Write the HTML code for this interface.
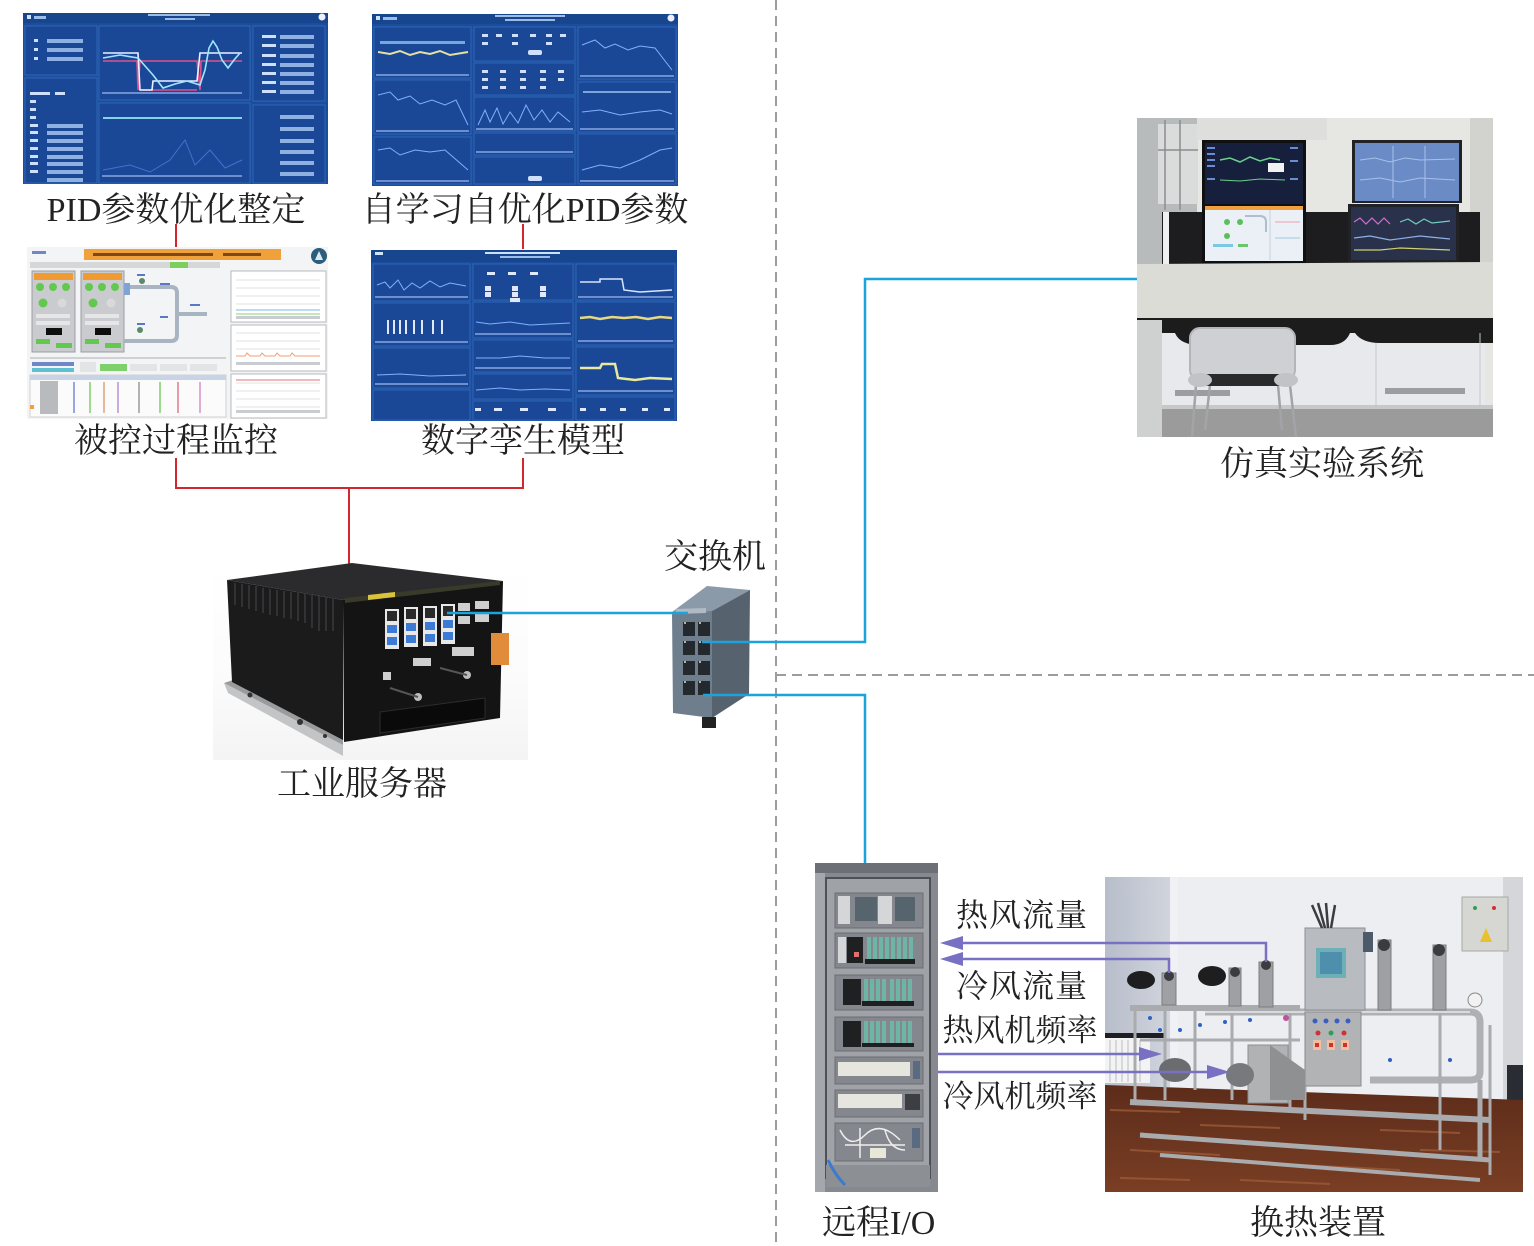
<!DOCTYPE html>
<html><head><meta charset="utf-8">
<style>
html,body{margin:0;padding:0;background:#fff;}
svg{display:block;}
text{font-family:"Liberation Serif","Noto Serif CJK SC","Noto Sans CJK SC",serif;fill:#222;}
</style></head><body>
<svg width="1534" height="1246" viewBox="0 0 1534 1246" xmlns="http://www.w3.org/2000/svg">
<defs>
<linearGradient id="floor" x1="0" y1="0" x2="0" y2="1"><stop offset="0" stop-color="#5c2c1a"/><stop offset="1" stop-color="#7a3e24"/></linearGradient>
<linearGradient id="lwall" x1="0" y1="0" x2="1" y2="0"><stop offset="0" stop-color="#b7bdca"/><stop offset="1" stop-color="#d3d7df"/></linearGradient>
<linearGradient id="srvbg" x1="0" y1="0" x2="0" y2="1"><stop offset="0" stop-color="#ffffff"/><stop offset="0.6" stop-color="#fbfbfb"/><stop offset="1" stop-color="#f4f4f4"/></linearGradient>
</defs>

<!-- dashed separators -->
<line x1="776" y1="0" x2="776" y2="1246" stroke="#9c9c9c" stroke-width="2" stroke-dasharray="10 6"/>
<line x1="776" y1="675" x2="1534" y2="675" stroke="#9c9c9c" stroke-width="2" stroke-dasharray="10 6"/>

<!-- ============ Screenshot 1 : PID ============ -->
<g>
<rect x="23" y="13" width="305" height="171" fill="#1b4d9c"/>
<rect x="23" y="13" width="305" height="10" fill="#17468f"/>
<rect x="27" y="15" width="4" height="4" fill="#cfe3ff"/>
<rect x="34" y="16" width="12" height="3" fill="#9bbde8"/>
<rect x="148" y="14" width="62" height="2" fill="#9bbde8"/>
<rect x="165" y="18" width="30" height="2" fill="#9bbde8"/>
<circle cx="322" cy="17" r="3.5" fill="#eef"/>
<g fill="#1a4896" stroke="#2f65b6" stroke-width="1">
<rect x="25" y="26" width="72" height="49"/>
<rect x="25" y="78" width="72" height="105"/>
<rect x="99" y="26" width="151" height="74"/>
<rect x="99" y="103" width="151" height="80"/>
<rect x="253" y="26" width="72" height="75"/>
<rect x="253" y="105" width="72" height="78"/>
</g>
<g fill="#8fb1e2">
<rect x="47" y="39" width="36" height="4"/><rect x="47" y="48" width="36" height="4"/><rect x="47" y="57" width="36" height="4"/>
<rect x="47" y="124" width="36" height="4"/><rect x="47" y="131" width="36" height="4"/><rect x="47" y="139" width="36" height="4"/><rect x="47" y="147" width="36" height="4"/><rect x="47" y="155" width="36" height="4"/><rect x="47" y="162" width="36" height="4"/><rect x="47" y="170" width="36" height="4"/><rect x="47" y="178" width="36" height="4"/>
<rect x="280" y="35" width="34" height="4"/><rect x="280" y="44" width="34" height="4"/><rect x="280" y="54" width="34" height="4"/><rect x="280" y="63" width="34" height="4"/><rect x="280" y="72" width="34" height="4"/><rect x="280" y="81" width="34" height="4"/><rect x="280" y="90" width="34" height="4"/>
<rect x="280" y="115" width="34" height="4"/><rect x="280" y="127" width="34" height="4"/><rect x="280" y="139" width="34" height="4"/><rect x="280" y="150" width="34" height="4"/><rect x="280" y="161" width="34" height="4"/><rect x="280" y="172" width="34" height="4"/>
</g>
<g fill="#cfe0ff">
<rect x="34" y="39" width="4" height="3"/><rect x="34" y="48" width="4" height="3"/><rect x="34" y="57" width="4" height="3"/>
<rect x="30" y="124" width="8" height="3"/><rect x="30" y="131" width="8" height="3"/><rect x="30" y="139" width="8" height="3"/><rect x="30" y="147" width="8" height="3"/><rect x="30" y="155" width="8" height="3"/><rect x="30" y="162" width="8" height="3"/><rect x="30" y="170" width="8" height="3"/>
<rect x="262" y="35" width="14" height="3"/><rect x="262" y="44" width="14" height="3"/><rect x="262" y="54" width="14" height="3"/><rect x="262" y="63" width="14" height="3"/><rect x="262" y="72" width="14" height="3"/><rect x="262" y="81" width="14" height="3"/><rect x="262" y="90" width="14" height="3"/>
<rect x="30" y="92" width="20" height="3"/><rect x="55" y="92" width="10" height="3"/>
<rect x="30" y="100" width="6" height="3"/><rect x="30" y="108" width="6" height="3"/><rect x="30" y="116" width="6" height="3"/>
</g>
<g fill="none" stroke-width="1.6">
<polyline points="103,61 137,61 138,90 140,61 197,61 200,90 201,61 242,61" stroke="#e0508a"/>
<polyline points="140,90 197,90" stroke="#e0508a"/>
<polyline points="103,53 138,53 140,90 152,90 153,81 197,81 200,53 242,53" stroke="#f0f0ff"/>
<polyline points="103,58 120,55 138,58 153,75 163,88 175,84 187,81 200,85 205,70 209,48 213,41 217,47 222,60 228,68 234,60 240,53" stroke="#9fe6ff"/>
<line x1="103" y1="118" x2="242" y2="118" stroke="#7fd4ea" stroke-width="2"/>
<polyline points="103,170 130,165 150,172 170,160 185,140 195,165 210,150 225,168 242,160" stroke="#4a6ed0" stroke-width="1"/>
</g>
<rect x="102" y="92" width="140" height="2" fill="#6d8fd0"/>
<rect x="102" y="175" width="140" height="2" fill="#6d8fd0"/>
</g>

<!-- ============ Screenshot 2 ============ -->
<g>
<rect x="372" y="14" width="306" height="172" fill="#1b4d9c"/>
<rect x="372" y="14" width="306" height="10" fill="#17468f"/>
<rect x="376" y="16" width="4" height="4" fill="#cfe3ff"/>
<rect x="383" y="17" width="14" height="3" fill="#9bbde8"/>
<rect x="495" y="15" width="70" height="2" fill="#9bbde8"/>
<rect x="505" y="19" width="50" height="2" fill="#9bbde8"/>
<circle cx="671" cy="18" r="3.5" fill="#eef"/>
<g fill="#1a4896" stroke="#2f65b6" stroke-width="1">
<rect x="374" y="27" width="97" height="51"/>
<rect x="374" y="80" width="97" height="54"/>
<rect x="374" y="137" width="97" height="47"/>
<rect x="474" y="27" width="101" height="34"/>
<rect x="474" y="63" width="101" height="32"/>
<rect x="474" y="97" width="101" height="34"/>
<rect x="474" y="133" width="101" height="22"/>
<rect x="474" y="157" width="101" height="27"/>
<rect x="578" y="27" width="98" height="52"/>
<rect x="578" y="82" width="98" height="50"/>
<rect x="578" y="134" width="98" height="50"/>
</g>
<rect x="380" y="41" width="85" height="3" fill="#7aa5dd"/>
<polyline points="378,52 390,54 400,51 410,55 420,52 430,54 440,51 450,55 468,52" fill="none" stroke="#e8e0a0" stroke-width="2"/>
<polyline points="378,95 390,92 398,100 410,96 420,104 432,100 445,105 456,100 468,125" fill="none" stroke="#7fb0ff" stroke-width="1"/>
<polyline points="378,150 390,148 400,155 415,150 430,152 445,150 468,170" fill="none" stroke="#7fb0ff" stroke-width="1"/>
<polyline points="582,45 595,40 605,48 615,44 628,50 640,46 655,48 672,70" fill="none" stroke="#7fb0ff" stroke-width="1"/>
<rect x="583" y="91" width="88" height="2" fill="#7aa5dd"/>
<polyline points="582,112 600,110 620,115 640,112 660,110 672,114" fill="none" stroke="#7fb0ff" stroke-width="1"/>
<polyline points="582,170 600,165 620,168 640,160 660,150 672,148" fill="none" stroke="#7fb0ff" stroke-width="1"/>
<g fill="#cfe0ff">
<rect x="482" y="34" width="6" height="3"/><rect x="496" y="34" width="6" height="3"/><rect x="512" y="34" width="6" height="3"/><rect x="530" y="34" width="6" height="3"/><rect x="546" y="34" width="6" height="3"/><rect x="560" y="34" width="6" height="3"/>
<rect x="482" y="42" width="6" height="3"/><rect x="512" y="42" width="6" height="3"/><rect x="546" y="42" width="6" height="3"/>
<rect x="528" y="50" width="14" height="5" rx="2"/>
<rect x="482" y="70" width="6" height="3"/><rect x="500" y="70" width="6" height="3"/><rect x="520" y="70" width="6" height="3"/><rect x="540" y="70" width="6" height="3"/><rect x="558" y="70" width="6" height="3"/>
<rect x="482" y="78" width="6" height="3"/><rect x="500" y="78" width="6" height="3"/><rect x="520" y="78" width="6" height="3"/><rect x="540" y="78" width="6" height="3"/><rect x="558" y="78" width="6" height="3"/>
<rect x="482" y="86" width="6" height="3"/><rect x="500" y="86" width="6" height="3"/><rect x="520" y="86" width="6" height="3"/><rect x="540" y="86" width="6" height="3"/>
<rect x="528" y="176" width="14" height="5" rx="2"/>
</g>
<polyline points="478,125 485,110 490,122 497,108 503,124 510,112 518,123 526,105 534,120 542,110 550,122 558,112 570,122" fill="none" stroke="#7fb0ff" stroke-width="1"/>
<g fill="#6d8fd0"><rect x="376" y="74" width="93" height="2"/><rect x="376" y="130" width="93" height="2"/><rect x="376" y="180" width="93" height="2"/><rect x="580" y="75" width="94" height="2"/><rect x="580" y="128" width="94" height="2"/><rect x="580" y="180" width="94" height="2"/><rect x="476" y="128" width="97" height="2"/><rect x="476" y="151" width="97" height="2"/></g>
</g>

<!-- red lines -->
<path d="M176 224V247 M523 224V249 M176 458V488H523V458 M349 488V567" stroke="#d3272e" stroke-width="2" fill="none"/>

<!-- ============ Screenshot 3 : process monitor ============ -->
<g>
<rect x="27" y="247" width="301" height="172" fill="#f3f4f5"/>
<rect x="32" y="251" width="14" height="3" fill="#6f86c8"/>
<rect x="84" y="249" width="197" height="11" fill="#f0a13a"/>
<rect x="93" y="253" width="120" height="3" fill="#7a4a1c"/>
<rect x="223" y="253" width="38" height="3" fill="#7a4a1c"/>
<circle cx="319" cy="256" r="8" fill="#2b5e7d"/>
<path d="M315 260 L319 251 L323 260 Z" fill="#dfeaf0"/>
<rect x="30" y="262" width="190" height="6" fill="#d6d7d9"/>
<rect x="170" y="262" width="18" height="6" fill="#7ccf5a"/>
<g stroke="#9a9da2" stroke-width="1">
<rect x="32" y="271" width="43" height="81" fill="#c9cbce"/>
<rect x="81" y="271" width="43" height="81" fill="#c9cbce"/>
</g>
<rect x="34" y="273" width="39" height="7" fill="#f09a32"/>
<rect x="83" y="273" width="39" height="7" fill="#f09a32"/>
<g fill="#62c94e">
<circle cx="40" cy="287" r="4"/><circle cx="53" cy="287" r="4"/><circle cx="66" cy="287" r="4"/>
<circle cx="89" cy="287" r="4"/><circle cx="102" cy="287" r="4"/><circle cx="115" cy="287" r="4"/>
<circle cx="43" cy="303" r="4.5"/><circle cx="93" cy="303" r="4.5"/>
<rect x="36" y="339" width="14" height="5"/><rect x="56" y="343" width="16" height="5"/>
<rect x="85" y="339" width="14" height="5"/><rect x="105" y="343" width="16" height="5"/>
</g>
<circle cx="62" cy="303" r="4.5" fill="#d9d9d9"/><circle cx="111" cy="303" r="4.5" fill="#d9d9d9"/>
<rect x="46" y="328" width="16" height="7" fill="#0e0e0e"/><rect x="95" y="328" width="16" height="7" fill="#0e0e0e"/>
<g fill="#e6e6e8"><rect x="36" y="314" width="34" height="4"/><rect x="36" y="321" width="34" height="4"/><rect x="85" y="314" width="34" height="4"/><rect x="85" y="321" width="34" height="4"/></g>
<g fill="none" stroke="#a9b4c3" stroke-width="4">
<path d="M124 287 H171 Q177 287 177 293 V335 Q177 341 171 341 H124"/>
<path d="M177 314 H207"/>
</g>
<rect x="124" y="283" width="6" height="12" fill="#7ea4d6"/>
<circle cx="142" cy="281" r="3" fill="#5a8a6a"/><circle cx="140" cy="330" r="3" fill="#5a8a6a"/>
<g fill="#5a78c8"><rect x="137" y="274" width="8" height="2"/><rect x="160" y="283" width="10" height="2"/><rect x="190" y="304" width="10" height="2"/><rect x="160" y="316" width="8" height="2"/><rect x="137" y="323" width="8" height="2"/></g>
<g fill="#fff" stroke="#b5b8bd" stroke-width="1">
<rect x="231" y="271" width="95" height="51"/>
<rect x="231" y="325" width="95" height="46"/>
<rect x="231" y="374" width="95" height="44"/>
</g>
<g stroke="#e0e0e0" stroke-width="1">
<line x1="236" y1="280" x2="320" y2="280"/><line x1="236" y1="288" x2="320" y2="288"/><line x1="236" y1="296" x2="320" y2="296"/><line x1="236" y1="304" x2="320" y2="304"/>
<line x1="236" y1="333" x2="320" y2="333"/><line x1="236" y1="341" x2="320" y2="341"/><line x1="236" y1="349" x2="320" y2="349"/>
<line x1="236" y1="383" x2="320" y2="383"/><line x1="236" y1="391" x2="320" y2="391"/><line x1="236" y1="399" x2="320" y2="399"/><line x1="236" y1="407" x2="320" y2="407"/>
</g>
<line x1="236" y1="310" x2="320" y2="310" stroke="#7ab8e0"/>
<line x1="236" y1="314" x2="320" y2="314" stroke="#8cd070"/>
<polyline points="236,356 245,356 247,353 250,356 260,356 262,353 265,356 275,356 277,353 280,356 290,356 292,353 295,356 320,356" fill="none" stroke="#f0a070" stroke-width="1"/>
<line x1="236" y1="380" x2="320" y2="380" stroke="#e07070"/>
<g fill="#c9ccd0"><rect x="236" y="316" width="84" height="3"/><rect x="236" y="362" width="84" height="3"/><rect x="236" y="410" width="84" height="3"/></g>
<rect x="30" y="357" width="196" height="2" fill="#cfd1d4"/>
<rect x="32" y="362" width="42" height="4" fill="#6f86c8"/>
<rect x="32" y="368" width="42" height="4" fill="#5ec0d0"/>
<rect x="80" y="362" width="16" height="10" fill="#e3e4e6"/>
<rect x="100" y="364" width="27" height="7" fill="#7dd06a"/>
<rect x="130" y="364" width="27" height="7" fill="#e3e4e6"/>
<rect x="160" y="364" width="27" height="7" fill="#e3e4e6"/>
<rect x="190" y="364" width="27" height="7" fill="#e3e4e6"/>
<rect x="30" y="375" width="196" height="42" fill="#fbfbfb" stroke="#d0d2d5"/>
<rect x="30" y="375" width="196" height="5" fill="#c8d4e6"/>
<rect x="40" y="381" width="18" height="33" fill="#b8babd"/>
<g fill="none" stroke-width="1.5">
<line x1="74" y1="382" x2="74" y2="413" stroke="#7a8ad8"/>
<line x1="90" y1="382" x2="90" y2="413" stroke="#7ccf6a"/>
<line x1="104" y1="382" x2="104" y2="413" stroke="#e0a07a"/>
<line x1="118" y1="382" x2="118" y2="413" stroke="#b890d8"/>
<line x1="139" y1="382" x2="139" y2="413" stroke="#9a9a9a"/>
<line x1="160" y1="382" x2="160" y2="413" stroke="#7ccf6a"/>
<line x1="178" y1="382" x2="178" y2="413" stroke="#e07a8a"/>
<line x1="200" y1="382" x2="200" y2="413" stroke="#d890c8"/>
</g>
<rect x="30" y="405" width="4" height="4" fill="#f0a040"/>
</g>

<!-- ============ Screenshot 4 : digital twin ============ -->
<g>
<rect x="371" y="250" width="306" height="171" fill="#1b4d9c"/>
<rect x="371" y="250" width="306" height="12" fill="#17468f"/>
<rect x="375" y="252" width="8" height="3" fill="#cfe3ff"/>
<rect x="485" y="252" width="75" height="2" fill="#cfe0ff"/>
<rect x="500" y="256" width="50" height="2" fill="#9bbde8"/>
<g fill="#1a4896" stroke="#2f65b6" stroke-width="1">
<rect x="373" y="264" width="97" height="37"/>
<rect x="373" y="303" width="97" height="43"/>
<rect x="373" y="348" width="97" height="40"/>
<rect x="373" y="390" width="97" height="30"/>
<rect x="473" y="264" width="100" height="36"/>
<rect x="473" y="302" width="100" height="36"/>
<rect x="473" y="340" width="100" height="32"/>
<rect x="473" y="374" width="100" height="25"/>
<rect x="473" y="401" width="100" height="19"/>
<rect x="576" y="264" width="99" height="36"/>
<rect x="576" y="302" width="99" height="43"/>
<rect x="576" y="347" width="99" height="48"/>
<rect x="576" y="397" width="99" height="23"/>
</g>
<polyline points="377,285 385,282 390,288 398,280 404,290 412,283 420,288 430,281 440,287 450,283 466,286" fill="none" stroke="#7fb0ff" stroke-width="1"/>
<g fill="#dfe8ff">
<rect x="387" y="320" width="2" height="14"/><rect x="393" y="320" width="2" height="14"/><rect x="399" y="320" width="2" height="14"/><rect x="405" y="320" width="2" height="14"/><rect x="413" y="320" width="2" height="14"/><rect x="421" y="320" width="2" height="14"/><rect x="432" y="320" width="2" height="14"/><rect x="441" y="320" width="2" height="14"/>
<rect x="485" y="286" width="6" height="5"/><rect x="512" y="286" width="6" height="5"/><rect x="540" y="286" width="6" height="5"/>
<rect x="485" y="292" width="6" height="5"/><rect x="512" y="292" width="6" height="5"/><rect x="540" y="292" width="6" height="5"/>
<rect x="487" y="272" width="8" height="3"/><rect x="508" y="272" width="8" height="3"/><rect x="530" y="272" width="8" height="3"/>
<rect x="510" y="298" width="10" height="4"/>
<rect x="475" y="408" width="6" height="3"/><rect x="494" y="408" width="8" height="3"/><rect x="520" y="408" width="8" height="3"/><rect x="548" y="408" width="8" height="3"/>
<rect x="580" y="408" width="6" height="3"/><rect x="600" y="408" width="6" height="3"/><rect x="620" y="408" width="6" height="3"/><rect x="642" y="408" width="6" height="3"/><rect x="664" y="408" width="6" height="3"/>
</g>
<polyline points="580,282 600,282 600,279 622,279 624,290 640,292 672,290" fill="none" stroke="#d9e6ff" stroke-width="1.5"/>
<polyline points="580,318 590,317 600,319 612,317 624,318 636,317 648,319 660,317 672,318" fill="none" stroke="#e8d880" stroke-width="2.5"/>
<polyline points="580,368 600,368 602,364 615,364 618,378 635,380 650,378 672,379" fill="none" stroke="#e8e8a0" stroke-width="2.5"/>
<polyline points="476,322 490,324 510,322 530,325 570,323" fill="none" stroke="#7fb0ff" stroke-width="1"/>
<polyline points="476,358 500,358 520,356 545,358 570,358" fill="none" stroke="#7fb0ff" stroke-width="1"/>
<polyline points="476,390 500,388 520,390 545,389 570,390" fill="none" stroke="#7fb0ff" stroke-width="1"/>
<polyline points="377,375 400,374 430,376 466,375" fill="none" stroke="#7fb0ff" stroke-width="1"/>
<g fill="#6d8fd0"><rect x="375" y="296" width="93" height="2"/><rect x="375" y="341" width="93" height="2"/><rect x="375" y="383" width="93" height="2"/><rect x="475" y="333" width="96" height="2"/><rect x="475" y="367" width="96" height="2"/><rect x="578" y="296" width="95" height="2"/><rect x="578" y="340" width="95" height="2"/><rect x="578" y="390" width="95" height="2"/></g>
</g>

<!-- ============ Industrial server ============ -->
<g>
<rect x="213" y="566" width="315" height="194" fill="url(#srvbg)"/>
<polygon points="224,683 343,745 343,756 228,693" fill="#c3c4c6"/>
<polygon points="224,683 236,679 343,737 343,745" fill="#9a9b9d"/>
<circle cx="250" cy="695" r="2.5" fill="#333"/><circle cx="300" cy="722" r="3" fill="#333"/><circle cx="325" cy="736" r="2" fill="#333"/>
<polygon points="227,580 343,600 343,740 232,682" fill="#1b1b1c"/>
<g stroke="#3a3a3c" stroke-width="1.5">
<line x1="235" y1="583" x2="235" y2="605"/><line x1="242" y1="584" x2="242" y2="607"/><line x1="249" y1="585" x2="249" y2="609"/><line x1="256" y1="586" x2="256" y2="611"/><line x1="263" y1="588" x2="263" y2="613"/><line x1="270" y1="589" x2="270" y2="615"/><line x1="277" y1="590" x2="277" y2="616"/><line x1="284" y1="591" x2="284" y2="618"/><line x1="291" y1="592" x2="291" y2="619"/><line x1="298" y1="593" x2="298" y2="621"/><line x1="305" y1="594" x2="305" y2="623"/><line x1="312" y1="595" x2="312" y2="628"/><line x1="319" y1="596" x2="319" y2="631"/><line x1="326" y1="597" x2="326" y2="631"/><line x1="333" y1="598" x2="333" y2="631"/>
</g>
<polygon points="227,580 352,563 503,581 343,600" fill="#2b2b2d"/>
<polygon points="343,600 503,581 500,718 344,742" fill="#141415"/>
<polygon points="345,598 500,581 500,585 345,603" fill="#3a3a2a"/>
<polygon points="368,595 395,592 395,597 368,600" fill="#d8c33a"/>
<g>
<rect x="385" y="609" width="14" height="40" fill="#e8e8e8"/><rect x="404" y="607" width="14" height="40" fill="#e8e8e8"/><rect x="423" y="606" width="14" height="40" fill="#e8e8e8"/><rect x="441" y="604" width="14" height="40" fill="#e8e8e8"/>
<rect x="387" y="611" width="10" height="10" fill="#2a2a2a"/><rect x="406" y="609" width="10" height="10" fill="#2a2a2a"/><rect x="425" y="608" width="10" height="10" fill="#2a2a2a"/><rect x="443" y="606" width="10" height="10" fill="#2a2a2a"/>
<rect x="387" y="625" width="10" height="8" fill="#3b7bd6"/><rect x="406" y="623" width="10" height="8" fill="#3b7bd6"/><rect x="425" y="622" width="10" height="8" fill="#3b7bd6"/><rect x="443" y="620" width="10" height="8" fill="#3b7bd6"/>
<rect x="387" y="637" width="10" height="8" fill="#3b7bd6"/><rect x="406" y="635" width="10" height="8" fill="#3b7bd6"/><rect x="425" y="634" width="10" height="8" fill="#3b7bd6"/><rect x="443" y="632" width="10" height="8" fill="#3b7bd6"/>
</g>
<g fill="#cfcfcf">
<rect x="458" y="603" width="12" height="8"/><rect x="475" y="601" width="14" height="8"/><rect x="458" y="616" width="12" height="8"/><rect x="475" y="614" width="14" height="8"/>
<rect x="452" y="647" width="22" height="9"/><rect x="413" y="658" width="18" height="8"/>
<rect x="383" y="672" width="8" height="8"/>
</g>
<rect x="491" y="633" width="18" height="32" fill="#e08c3a"/>
<circle cx="418" cy="697" r="4" fill="#bdbdbd"/><circle cx="467" cy="675" r="4" fill="#bdbdbd"/>
<line x1="390" y1="688" x2="418" y2="697" stroke="#555" stroke-width="2"/><line x1="440" y1="668" x2="467" y2="675" stroke="#555" stroke-width="2"/>
<polygon points="380,712 485,698 485,718 380,733" fill="#0a0a0a" stroke="#2c2c2c"/>
</g>

<!-- ============ Switch ============ -->
<g>
<polygon points="672,612 707,586 750,590 712,611" fill="#8a9aa8"/>
<polygon points="672,612 712,611 712,718 673,713" fill="#6e7e8d"/>
<polygon points="712,611 750,590 749,694 712,718" fill="#56626e"/>
<polygon points="676,609 706,608 706,613 676,614" fill="#b0bac4"/>
<g fill="#24292e">
<rect x="683" y="622" width="12" height="14"/><rect x="698" y="622" width="12" height="14"/>
<rect x="683" y="641" width="12" height="14"/><rect x="698" y="641" width="12" height="14"/>
<rect x="683" y="661" width="12" height="14"/><rect x="698" y="661" width="12" height="14"/>
<rect x="683" y="681" width="12" height="14"/><rect x="698" y="681" width="12" height="14"/>
</g>
<g fill="#a9b7a0">
<rect x="684" y="622" width="2" height="2"/><rect x="699" y="622" width="2" height="2"/><rect x="684" y="641" width="2" height="2"/><rect x="699" y="641" width="2" height="2"/><rect x="684" y="661" width="2" height="2"/><rect x="699" y="661" width="2" height="2"/><rect x="684" y="681" width="2" height="2"/><rect x="699" y="681" width="2" height="2"/>
</g>
<rect x="702" y="717" width="14" height="11" fill="#222"/>
</g>

<!-- blue network lines -->
<path d="M447 613H688 M702 642H865V279H1137 M703 695H865V863" stroke="#1ba3dc" stroke-width="2.5" fill="none"/>

<!-- ============ Simulation system photo ============ -->
<g>
<rect x="1137" y="118" width="356" height="319" fill="#e6e6e3"/>
<rect x="1137" y="118" width="60" height="190" fill="#b8bbbc"/>
<rect x="1158" y="124" width="40" height="80" fill="#d9dcda"/>
<g stroke="#8a8d8e" stroke-width="1.5"><line x1="1165" y1="120" x2="1165" y2="210"/><line x1="1180" y1="120" x2="1180" y2="210"/><line x1="1158" y1="150" x2="1198" y2="150"/></g>
<rect x="1197" y="118" width="130" height="22" fill="#dedfdc"/>
<rect x="1470" y="118" width="23" height="200" fill="#d2d2cf"/>
<rect x="1162" y="212" width="318" height="52" fill="#1d1d1f"/>
<rect x="1163" y="212" width="6" height="52" fill="#f0f0f0"/>
<rect x="1202" y="140" width="104" height="123" fill="#101012"/>
<rect x="1205" y="143" width="98" height="61" fill="#16203c"/>
<polyline points="1220,160 1230,158 1240,162 1250,157 1260,161 1270,158 1280,160" fill="none" stroke="#6ccf8a" stroke-width="1.5"/>
<polyline points="1220,180 1240,181 1260,179 1285,180" fill="none" stroke="#6ccf8a" stroke-width="1"/>
<rect x="1268" y="163" width="16" height="9" fill="#f2f2f2"/>
<g fill="#6a8cd0"><rect x="1207" y="147" width="8" height="2"/><rect x="1207" y="153" width="8" height="2"/><rect x="1207" y="159" width="8" height="2"/><rect x="1207" y="165" width="8" height="2"/><rect x="1207" y="178" width="8" height="2"/><rect x="1290" y="147" width="8" height="2"/><rect x="1290" y="160" width="8" height="2"/><rect x="1290" y="178" width="8" height="2"/></g>
<rect x="1205" y="206" width="98" height="55" fill="#eaf0f5"/>
<rect x="1205" y="206" width="98" height="4" fill="#f0a040"/>
<circle cx="1227" cy="222" r="3" fill="#5bbf5b"/><circle cx="1240" cy="222" r="3" fill="#5bbf5b"/><circle cx="1227" cy="236" r="3" fill="#5bbf5b"/>
<rect x="1213" y="244" width="20" height="3" fill="#7cc8e0"/><rect x="1238" y="244" width="10" height="3" fill="#6cc46c"/>
<path d="M1245 216 H1260 Q1266 216 1266 222 V232" fill="none" stroke="#b0bcd0" stroke-width="2"/>
<line x1="1275" y1="222" x2="1300" y2="222" stroke="#f0a0b0"/>
<line x1="1275" y1="238" x2="1300" y2="238" stroke="#a0c8e0"/>
<line x1="1270" y1="210" x2="1270" y2="260" stroke="#c8d0da"/>
<rect x="1352" y="140" width="110" height="63" fill="#202226"/>
<rect x="1355" y="143" width="104" height="58" fill="#6b8bc6"/>
<g stroke="#a8c0ea" stroke-width="1" fill="none"><polyline points="1360,160 1375,158 1390,162 1405,158 1420,160 1455,159"/><polyline points="1360,180 1380,178 1400,182 1420,178 1455,180"/><line x1="1393" y1="146" x2="1393" y2="198"/><line x1="1425" y1="146" x2="1425" y2="198"/></g>
<rect x="1348" y="204" width="111" height="58" fill="#202226"/>
<rect x="1351" y="207" width="105" height="53" fill="#29324a"/>
<g fill="none" stroke-width="1.2">
<polyline points="1354,222 1360,218 1366,224 1372,218 1378,224 1384,218 1390,224" stroke="#d070d0"/>
<polyline points="1400,222 1408,219 1416,224 1424,219 1432,223 1450,221" stroke="#70d0c0"/>
<polyline points="1354,238 1370,236 1390,240 1420,236 1450,239" stroke="#8fb0e8"/>
<polyline points="1354,250 1380,250 1400,248 1450,250" stroke="#d0d070"/>
</g>
<polygon points="1137,264 1493,262 1493,320 1137,322" fill="#dcdcd6"/>
<rect x="1137" y="318" width="356" height="15" fill="#1c1c1c"/>
<rect x="1137" y="320" width="25" height="117" fill="#cfd0d0"/>
<rect x="1162" y="333" width="323" height="72" fill="#e8e9ec"/>
<path d="M1175 333 Q1180 345 1200 345 H1330 Q1345 345 1350 333 Z" fill="#1c1c1c"/>
<path d="M1355 333 Q1362 343 1380 343 H1493 V333 Z" fill="#1c1c1c"/>
<line x1="1376" y1="343" x2="1376" y2="405" stroke="#c5c6ca"/>
<line x1="1480" y1="333" x2="1480" y2="420" stroke="#c5c6ca"/>
<rect x="1175" y="390" width="55" height="6" fill="#9c9da0"/><rect x="1385" y="388" width="80" height="6" fill="#9c9da0"/>
<rect x="1162" y="405" width="331" height="32" fill="#9b9b9b"/>
<rect x="1162" y="405" width="331" height="4" fill="#c8c8c8"/>
<g stroke="#a3a4a7" stroke-width="2.5" fill="none">
<line x1="1196" y1="385" x2="1192" y2="437"/><line x1="1290" y1="385" x2="1296" y2="437"/><line x1="1210" y1="385" x2="1205" y2="430"/><line x1="1278" y1="385" x2="1282" y2="430"/>
</g>
<rect x="1190" y="328" width="105" height="52" rx="10" fill="#cfd0d4" stroke="#b4b5b9" stroke-width="2"/>
<rect x="1203" y="374" width="80" height="12" rx="4" fill="#2a2a2c"/>
<ellipse cx="1200" cy="380" rx="12" ry="7" fill="#c2c3c6"/>
<ellipse cx="1286" cy="380" rx="12" ry="7" fill="#c2c3c6"/>
</g>

<!-- ============ Remote I/O cabinet ============ -->
<g>
<rect x="815" y="863" width="123" height="329" fill="#868a90"/>
<rect x="815" y="863" width="123" height="10" fill="#6c7076"/>
<rect x="815" y="873" width="10" height="319" fill="#a4a7ac"/>
<rect x="826" y="878" width="104" height="300" fill="#9fa2a7"/>
<rect x="826" y="878" width="104" height="300" fill="none" stroke="#4d5055" stroke-width="2"/>
<g fill="#84878d" stroke="#6b6e73">
<rect x="835" y="893" width="88" height="35"/>
<rect x="835" y="933" width="88" height="35"/>
<rect x="835" y="975" width="88" height="35"/>
<rect x="835" y="1017" width="88" height="34"/>
<rect x="835" y="1057" width="88" height="27"/>
<rect x="835" y="1090" width="88" height="27"/>
<rect x="835" y="1123" width="88" height="38"/>
</g>
<rect x="838" y="896" width="12" height="28" fill="#d4d6d8"/>
<rect x="855" y="897" width="22" height="24" fill="#56646e"/>
<rect x="878" y="896" width="14" height="28" fill="#d4d6d8"/>
<rect x="895" y="897" width="20" height="24" fill="#56646e"/>
<rect x="838" y="937" width="8" height="26" fill="#d4d6d8"/>
<rect x="847" y="937" width="16" height="26" fill="#1e2022"/>
<rect x="843" y="979" width="18" height="26" fill="#1e2022"/>
<rect x="843" y="1021" width="18" height="26" fill="#1e2022"/>
<g fill="#6fb5a6">
<rect x="867" y="937" width="4" height="22"/><rect x="873" y="937" width="4" height="22"/><rect x="879" y="937" width="4" height="22"/><rect x="885" y="937" width="4" height="22"/><rect x="891" y="937" width="4" height="22"/><rect x="897" y="937" width="4" height="22"/><rect x="903" y="937" width="4" height="22"/><rect x="909" y="937" width="4" height="22"/>
<rect x="864" y="979" width="4" height="22"/><rect x="870" y="979" width="4" height="22"/><rect x="876" y="979" width="4" height="22"/><rect x="882" y="979" width="4" height="22"/><rect x="890" y="979" width="4" height="22"/><rect x="896" y="979" width="4" height="22"/><rect x="902" y="979" width="4" height="22"/><rect x="908" y="979" width="4" height="22"/>
<rect x="864" y="1021" width="4" height="22"/><rect x="870" y="1021" width="4" height="22"/><rect x="876" y="1021" width="4" height="22"/><rect x="882" y="1021" width="4" height="22"/><rect x="890" y="1021" width="4" height="22"/><rect x="896" y="1021" width="4" height="22"/><rect x="902" y="1021" width="4" height="22"/><rect x="908" y="1021" width="4" height="22"/>
</g>
<g fill="#1d1f21"><rect x="865" y="959" width="50" height="5"/><rect x="862" y="1001" width="52" height="5"/><rect x="862" y="1043" width="52" height="4"/></g>
<rect x="854" y="952" width="5" height="5" fill="#e07070"/>
<rect x="838" y="1062" width="72" height="14" fill="#e6e6de"/>
<rect x="838" y="1094" width="64" height="14" fill="#e6e6de"/>
<rect x="913" y="1061" width="7" height="18" fill="#5a6a80"/>
<rect x="905" y="1094" width="15" height="16" fill="#3c3e42"/>
<g stroke="#efefef" stroke-width="1.5" fill="none">
<path d="M840 1130 Q850 1150 865 1135 T900 1140"/><path d="M845 1145 H905"/><path d="M860 1128 V1158"/><path d="M885 1130 Q890 1150 905 1150"/>
</g>
<rect x="870" y="1148" width="16" height="10" fill="#e8e8d8"/>
<rect x="912" y="1128" width="8" height="20" fill="#5a6a80"/>
<rect x="826" y="1165" width="104" height="22" fill="#8c9095"/>
<path d="M828 1160 Q835 1175 845 1185" stroke="#3a7ad0" stroke-width="3" fill="none"/>
</g>

<!-- ============ Heat exchanger photo ============ -->
<g>
<rect x="1105" y="877" width="418" height="315" fill="#eceef1"/>
<rect x="1105" y="877" width="72" height="210" fill="url(#lwall)"/>
<rect x="1170" y="877" width="8" height="210" fill="#f0f1f4"/>
<rect x="1503" y="877" width="20" height="315" fill="#d4d6da"/>
<rect x="1507" y="1065" width="16" height="40" fill="#2a2c34"/>
<rect x="1105" y="1038" width="45" height="45" fill="#f3f3f3"/>
<g stroke="#b9bcc2" stroke-width="1"><line x1="1110" y1="1040" x2="1110" y2="1082"/><line x1="1116" y1="1040" x2="1116" y2="1082"/><line x1="1122" y1="1040" x2="1122" y2="1082"/><line x1="1128" y1="1040" x2="1128" y2="1082"/><line x1="1134" y1="1040" x2="1134" y2="1082"/><line x1="1140" y1="1040" x2="1140" y2="1082"/></g>
<rect x="1105" y="1033" width="60" height="5" fill="#1d1f24"/>
<polygon points="1105,1085 1523,1100 1523,1192 1105,1192" fill="url(#floor)"/>
<g stroke="#9a5a38" stroke-width="2" opacity="0.8">
<line x1="1110" y1="1110" x2="1180" y2="1112"/><line x1="1200" y1="1125" x2="1280" y2="1128"/><line x1="1130" y1="1150" x2="1220" y2="1155"/><line x1="1300" y1="1165" x2="1400" y2="1170"/><line x1="1120" y1="1178" x2="1190" y2="1180"/><line x1="1240" y1="1180" x2="1330" y2="1184"/><line x1="1420" y1="1150" x2="1500" y2="1152"/><line x1="1380" y1="1130" x2="1460" y2="1133"/>
</g>
<g stroke="#a9abae" fill="none">
<path d="M1130 1102 L1490 1120" stroke-width="6"/>
<path d="M1140 1135 L1490 1160" stroke-width="5"/>
<path d="M1160 1155 L1480 1180" stroke-width="4"/>
<path d="M1205 1012 H1470 Q1480 1012 1480 1022 V1072 Q1480 1080 1470 1080 H1370" stroke-width="7" stroke="#aeb0b3"/>
<path d="M1130 1008 H1300" stroke-width="6"/>
<path d="M1140 1040 H1300" stroke-width="3"/>
<path d="M1480 1080 V1160" stroke-width="5"/>
<path d="M1135 1008 V1100 M1165 1008 V1100 M1195 1008 V1090 M1232 1008 V1100 M1290 1008 V1110 M1305 1085 V1120 M1440 1012 V1150 M1490 1025 V1175" stroke-width="3"/>
</g>
<path d="M1205 1012 H1470" stroke="#d8dadc" stroke-width="2"/>
<rect x="1305" y="928" width="60" height="82" fill="#b8bbbf" stroke="#8d9094"/>
<rect x="1316" y="948" width="30" height="30" fill="#6db0b8"/>
<rect x="1320" y="952" width="22" height="22" fill="#4f8fae"/>
<rect x="1363" y="932" width="10" height="20" fill="#4d5a6a"/>
<g stroke="#3a3c40" stroke-width="2.5"><line x1="1312" y1="905" x2="1322" y2="928"/><line x1="1318" y1="903" x2="1325" y2="928"/><line x1="1326" y1="903" x2="1328" y2="928"/><line x1="1335" y1="905" x2="1331" y2="928"/></g>
<rect x="1305" y="1012" width="56" height="74" fill="#b2b3b5" stroke="#8a8b8e"/>
<g fill="#3a5fc0"><circle cx="1315" cy="1021" r="2.5"/><circle cx="1326" cy="1021" r="2.5"/><circle cx="1337" cy="1021" r="2.5"/><circle cx="1348" cy="1021" r="2.5"/></g>
<circle cx="1318" cy="1033" r="2.5" fill="#d03030"/><circle cx="1331" cy="1033" r="2.5" fill="#30a050"/><circle cx="1344" cy="1033" r="2.5" fill="#d03030"/>
<g fill="#f0c0a0"><rect x="1313" y="1040" width="8" height="10"/><rect x="1327" y="1040" width="8" height="10"/><rect x="1341" y="1040" width="8" height="10"/></g>
<g fill="#d03030"><rect x="1315" y="1043" width="4" height="4"/><rect x="1329" y="1043" width="4" height="4"/><rect x="1343" y="1043" width="4" height="4"/></g>
<rect x="1462" y="897" width="46" height="54" fill="#d6d6d3" stroke="#a8a8a6"/>
<circle cx="1475" cy="908" r="2" fill="#30a050"/><circle cx="1494" cy="908" r="2" fill="#d03030"/>
<polygon points="1486,928 1480,942 1492,942" fill="#e8c030"/>
<rect x="1248" y="1045" width="40" height="58" fill="#b1b2b4" stroke="#8d8e90"/>
<polygon points="1270,1045 1305,1070 1305,1100 1270,1100" fill="#8f9092"/>
<ellipse cx="1240" cy="1075" rx="14" ry="12" fill="#77797c"/>
<ellipse cx="1175" cy="1070" rx="16" ry="12" fill="#6a6c70"/>
<ellipse cx="1141" cy="980" rx="14" ry="9" fill="#1e1e20"/>
<ellipse cx="1212" cy="976" rx="14" ry="10" fill="#1e1e20"/>
<g fill="#9ea0a4" stroke="#7a7c80">
<rect x="1162" y="973" width="14" height="32"/>
<rect x="1259" y="962" width="14" height="45"/>
<rect x="1229" y="968" width="12" height="38"/>
<rect x="1378" y="940" width="13" height="70"/>
<rect x="1433" y="945" width="13" height="65"/>
</g>
<g fill="#3a3c40"><circle cx="1384" cy="945" r="6"/><circle cx="1439" cy="950" r="6"/><circle cx="1266" cy="965" r="5"/><circle cx="1169" cy="976" r="5"/><circle cx="1235" cy="972" r="5"/></g>
<g fill="#3060c0"><circle cx="1150" cy="1018" r="2"/><circle cx="1160" cy="1030" r="2"/><circle cx="1180" cy="1030" r="2"/><circle cx="1200" cy="1025" r="2"/><circle cx="1225" cy="1022" r="2"/><circle cx="1250" cy="1020" r="2"/><circle cx="1390" cy="1060" r="2"/><circle cx="1450" cy="1060" r="2"/></g>
<circle cx="1475" cy="1000" r="7" fill="#f2f2f2" stroke="#888"/>
<circle cx="1286" cy="1018" r="3" fill="#c050a0"/>
</g>

<!-- purple signal arrows -->
<g stroke="#7870c2" stroke-width="2.5" fill="none">
<path d="M1266 962V943H960"/>
<path d="M1169 973V959H960"/>
<path d="M938 1054H1140"/>
<path d="M938 1072H1208"/>
</g>
<g fill="#7870c2">
<polygon points="940,943 963,936 963,950"/>
<polygon points="940,959 963,952 963,966"/>
<polygon points="1162,1054 1139,1047 1139,1061"/>
<polygon points="1230,1072 1207,1065 1207,1079"/>
</g>

<!-- ============ Labels ============ -->
<g font-size="34">
<text x="176" y="221" text-anchor="middle">PID参数优化整定</text>
<text x="525" y="221" text-anchor="middle">自学习自优化PID参数</text>
<text x="176" y="452" text-anchor="middle">被控过程监控</text>
<text x="523" y="452" text-anchor="middle">数字孪生模型</text>
<text x="362" y="795" text-anchor="middle">工业服务器</text>
<text x="715" y="568" text-anchor="middle">交换机</text>
<text x="1322" y="475" text-anchor="middle">仿真实验系统</text>
<text x="822" y="1234">远程I/O</text>
<text x="1318" y="1234" text-anchor="middle">换热装置</text>
</g>
<g font-size="32">
<text x="1022" y="926" text-anchor="middle" letter-spacing="1">热风流量</text>
<text x="1022" y="997" text-anchor="middle" letter-spacing="1">冷风流量</text>
</g>
<g font-size="31">
<text x="1020" y="1041" text-anchor="middle">热风机频率</text>
<text x="1020" y="1107" text-anchor="middle">冷风机频率</text>
</g>
</svg>
</body></html>
